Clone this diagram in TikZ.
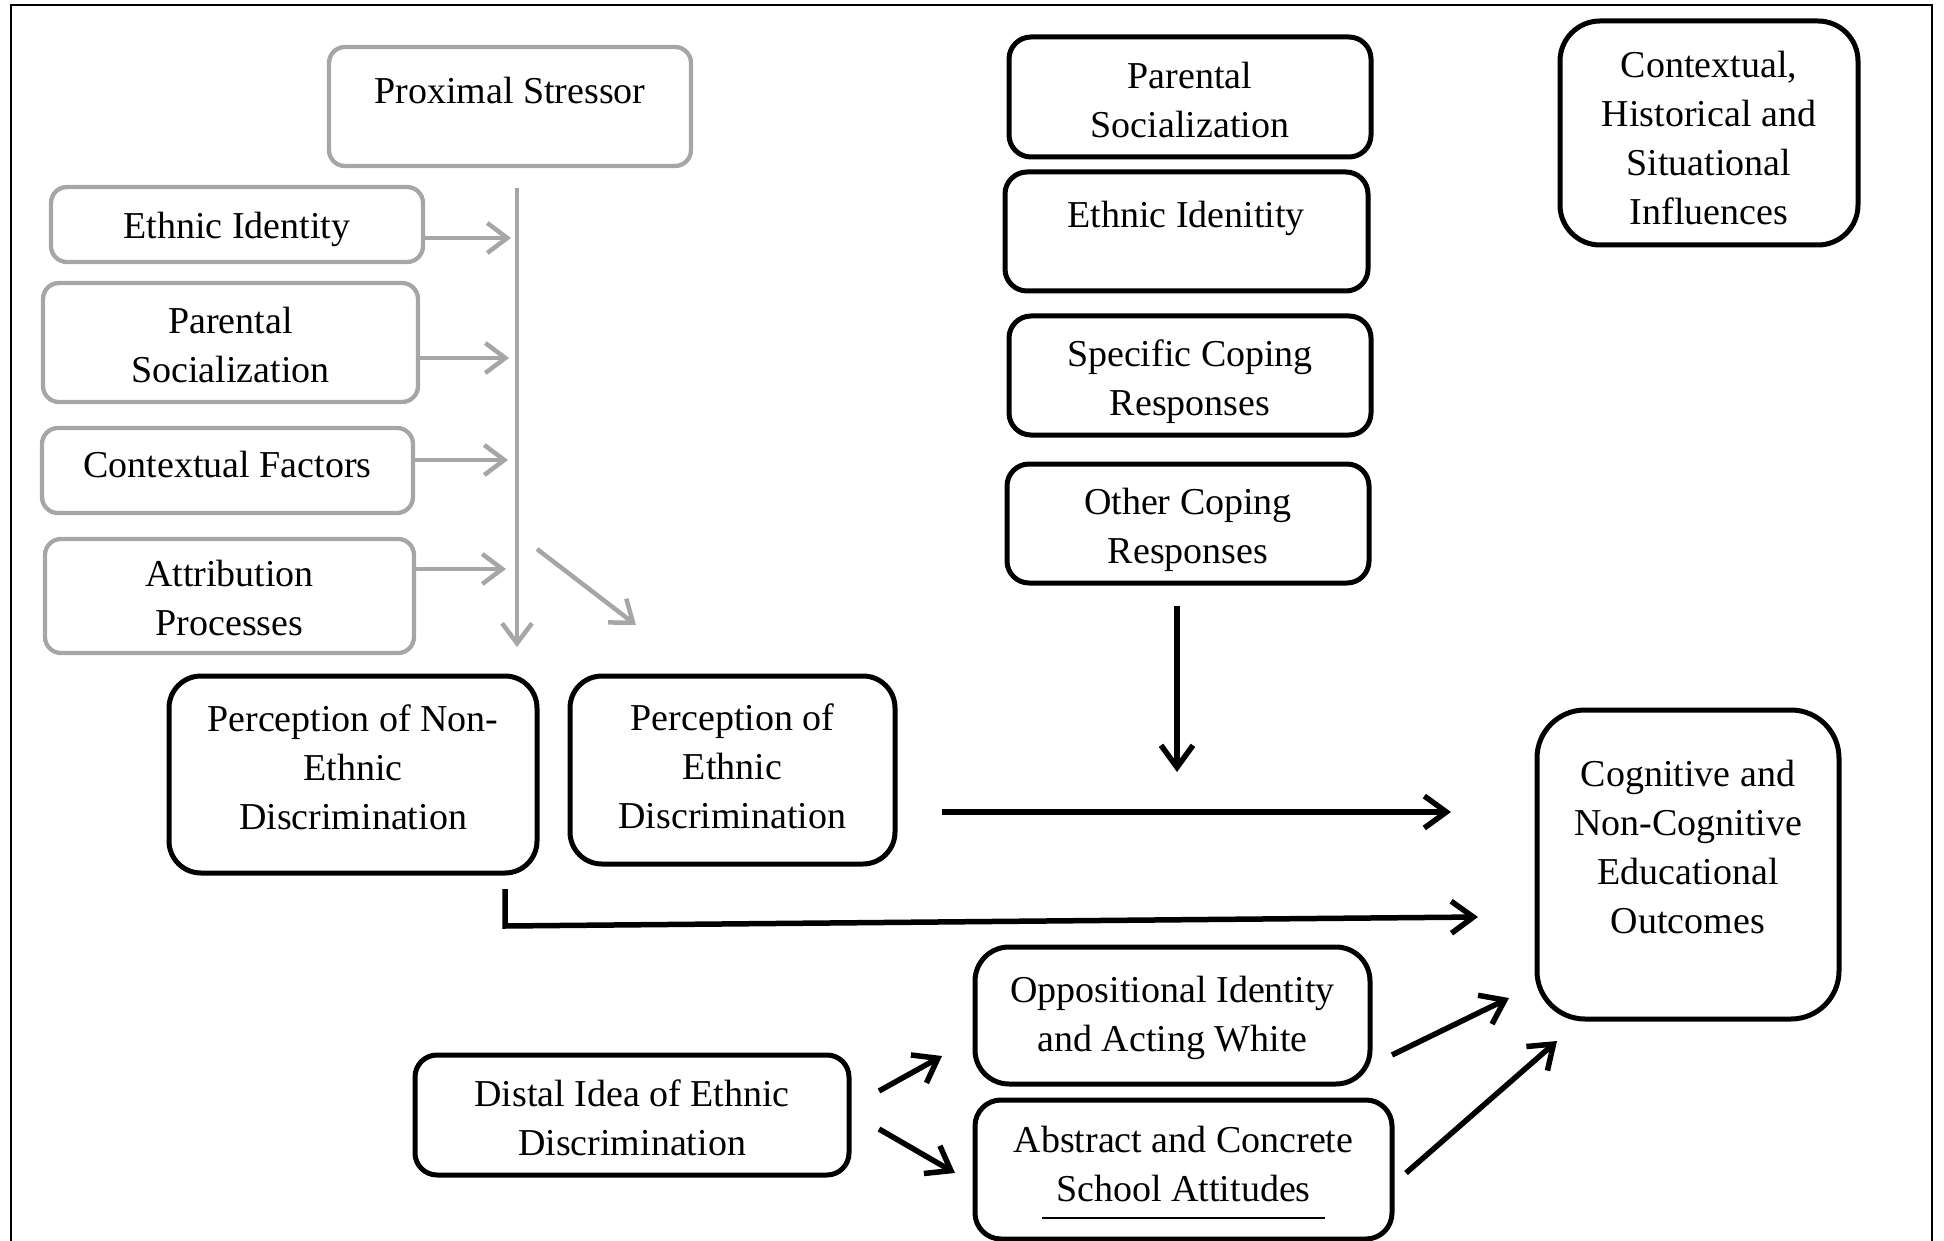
\documentclass[tikz,border=0pt]{standalone}
\usepackage{fontspec}
\setmainfont{Liberation Serif}
\usetikzlibrary{arrows.meta}
\definecolor{grayc}{RGB}{166,166,166}
\tikzset{
  txt/.style={font=\fontsize{38}{49}\selectfont, align=center, inner sep=0pt},
  graybox/.style={draw=grayc, line width=4.3pt, rounded corners=16pt, inner sep=0pt, outer sep=0pt},
  blackbox/.style={draw=black, line width=5pt, rounded corners=28pt, inner sep=0pt, outer sep=0pt},
  garrow/.style={draw=grayc, line width=4.5pt, -{Straight Barb[length=20pt,width=30pt]}},
  barrow/.style={draw=black, line width=5.5pt, -{Straight Barb[length=22pt,width=32pt]}},
}
\begin{document}
\begin{tikzpicture}[x=1pt,y=-1pt]
\useasboundingbox (0,0) rectangle (1944,1241);
% frame
\draw[line width=2pt] (11,1241) -- (11,5) -- (1932,5) -- (1932,1241);

% gray boxes
\node[graybox, minimum width=362pt, minimum height=119pt] (ps) at (510,106.5) {};
\node[txt] (pst) at (510,91) {Proximal Stressor};
\node[graybox, minimum width=372pt, minimum height=75pt] (gei) at (237,224.5) {};
\node[txt] (geit) at (237,229.5) {Ethnic Identity};
\node[graybox, minimum width=375pt, minimum height=119pt] (gps) at (230.5,342.5) {};
\node[txt] (gpst) at (230.5,345.5) {Parental\\Socialization};
\node[graybox, minimum width=371pt, minimum height=85pt] (gcf) at (227.5,470.5) {};
\node[txt] (gcft) at (227.5,464.5) {Contextual Factors};
\node[graybox, minimum width=369pt, minimum height=114pt] (gap) at (229.5,596) {};
\node[txt] (gapt) at (229.5,598) {Attribution\\Processes};

% black boxes
\node[blackbox, rounded corners=32pt, minimum width=368pt, minimum height=197pt] (pne) at (353,774.5) {};
\node[txt] (pnet) at (353,767.5) {Perception of Non-\\Ethnic\\Discrimination};
\node[blackbox, rounded corners=32pt, minimum width=325pt, minimum height=188pt] (pe) at (732.5,770) {};
\node[txt] (pet) at (732.5,766) {Perception of\\Ethnic\\Discrimination};
\node[blackbox, rounded corners=22pt, minimum width=362pt, minimum height=120pt] (bps) at (1190,97) {};
\node[txt] (bpst) at (1190,100) {Parental\\Socialization};
\node[blackbox, rounded corners=22pt, minimum width=363pt, minimum height=119pt] (bei) at (1186.5,231.5) {};
\node[txt] (beit) at (1186,218) {Ethnic Idenitity};
\node[blackbox, rounded corners=22pt, minimum width=362pt, minimum height=119pt] (scr) at (1190,375.5) {};
\node[txt] (scrt) at (1190,381.5) {Specific Coping\\Responses};
\node[blackbox, rounded corners=22pt, minimum width=362pt, minimum height=119pt] (ocr) at (1188,523.5) {};
\node[txt] (ocrt) at (1188,529.5) {Other Coping\\Responses};
\node[blackbox, rounded corners=40pt, minimum width=298pt, minimum height=224pt] (chs) at (1709,133) {};
\node[txt] (chst) at (1709,138) {Contextual,\\Historical and\\Situational\\Influences};
\node[blackbox, rounded corners=48pt, minimum width=302pt, minimum height=309pt] (out) at (1688,864.5) {};
\node[txt] (outt) at (1688,847) {Cognitive and\\Non-Cognitive\\Educational\\Outcomes};
\node[blackbox, rounded corners=34pt, minimum width=395pt, minimum height=137pt] (oiw) at (1172.5,1015.5) {};
\node[txt] (oiwt) at (1172.5,1017.5) {Oppositional Identity\\and Acting White};
\node[blackbox, rounded corners=26pt, minimum width=417pt, minimum height=139pt] (acs) at (1183.5,1169.5) {};
\node[txt] (acst) at (1183.5,1163.5) {Abstract and Concrete\\School Attitudes};
\node[blackbox, rounded corners=22pt, minimum width=434pt, minimum height=120pt] (did) at (632,1115) {};
\node[txt] (didt) at (632,1118) {Distal Idea of Ethnic\\Discrimination};

% underline in abstract box
\draw[line width=2pt] (1042,1218) -- (1325,1218);

% gray connectors
\coordinate (vtop) at (517,188);
\coordinate (vbot) at (517,647);
\draw[garrow] (vtop) -- (vbot);
\draw[garrow] (gei.east |- 0,238) -- (511,238);
\draw[garrow] (gps.east |- 0,358) -- (509,358);
\draw[garrow] (gcf.east |- 0,460) -- (508,460);
\draw[garrow] (gap.east |- 0,569) -- (506,569);
\coordinate (d1) at (537,549);
\coordinate (d2) at (636,625);
\draw[garrow] (d1) -- (d2);

% black connectors
\coordinate (oc1) at (1177,606);
\coordinate (oc2) at (1177,772);
\draw[barrow] (oc1) -- (oc2);
\coordinate (h1) at (942,812);
\coordinate (h2) at (1451,812);
\draw[barrow] (h1) -- (h2);
\coordinate (e1) at (505,889);
\coordinate (e2) at (505,926);
\coordinate (e3) at (1478,917);
\draw[barrow] (e1) -- (e2) -- (e3);
\coordinate (u1) at (879,1091);
\coordinate (u2) at (942,1056);
\draw[barrow] (u1) -- (u2);
\coordinate (l1) at (879,1129);
\coordinate (l2) at (955,1173);
\draw[barrow] (l1) -- (l2);
\coordinate (o1) at (1392,1055);
\coordinate (o2) at (1509,998);
\draw[barrow] (o1) -- (o2);
\coordinate (a1) at (1406,1173);
\coordinate (a2) at (1557,1041);
\draw[barrow] (a1) -- (a2);
\end{tikzpicture}
\end{document}
